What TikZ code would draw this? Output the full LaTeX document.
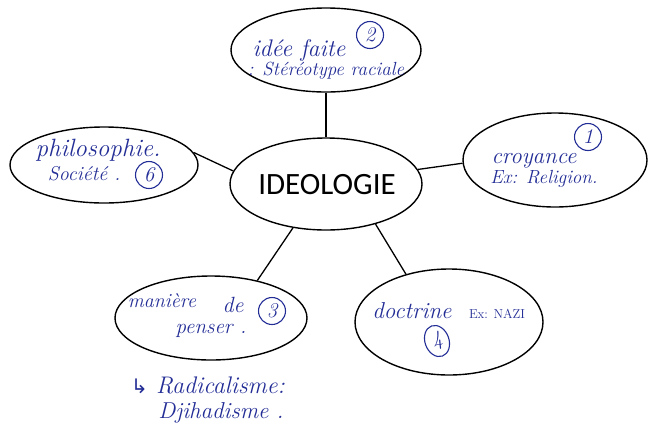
\documentclass[tikz,border=0pt]{standalone}
\usepackage{fontspec}
\newfontfamily\calib{Carlito}
\newfontfamily\djv{DejaVu Sans}
\usetikzlibrary{shapes.geometric}
\definecolor{hand}{RGB}{35,45,150}
\tikzset{
  bubble/.style={ellipse, draw=black, line width=1.4pt, inner sep=0pt},
  link/.style={draw=black, line width=1.3pt},
  hw/.style={text=hand, font=\fontsize{#1}{#1}\selectfont\itshape, inner sep=0pt},
  hw/.default=21,
  hwcaps/.style={text=hand, font=\fontsize{13}{15}\selectfont, inner sep=0pt},
  num/.style={circle, draw=hand, line width=1.1pt, text=hand, inner sep=0pt, minimum size=27pt, font=\fontsize{21}{23}\selectfont\itshape}
}
\begin{document}
\begin{tikzpicture}[x=1pt,y=-1pt]
\useasboundingbox (0,0) rectangle (650,426);
\fill[white] (0,0) rectangle (650,426);
% ellipses
\node[bubble, minimum width=192pt, minimum height=92pt] (center) at (326,184) {};
\node[bubble, minimum width=190pt, minimum height=84pt] (top) at (326,50) {};
\node[bubble, minimum width=188pt, minimum height=76pt] (left) at (104,165) {};
\node[bubble, minimum width=184pt, minimum height=94pt] (right) at (555,160) {};
\node[bubble, minimum width=192pt, minimum height=84pt] (bl) at (211,318) {};
\node[bubble, minimum width=188pt, minimum height=106pt] (br) at (449,322) {};
% connectors
\draw[link] (top.south) -- (center.north);
\draw[link] (left.8) -- (center.172);
\draw[link] (center.9) -- (right.182);
\draw[link] (center.233) -- (bl.39);
\draw[link] (center.-39) -- (br.132);
% central label
\node[font=\calib\fontsize{31}{34}\selectfont, inner sep=0pt] (ideo) at (327,185) {IDEOLOGIE};
% top texts
\node[hw=24] (t1) at (299,50) {idée faite};
\node[hw=19] (t2) at (326,71) {: Stéréotype raciale};
\node[num] (n2) at (370,35) {2};
% left texts
\node[hw=25] (l1) at (98,150) {philosophie.};
\node[hw=20] (l2) at (84,174) {Société .};
\node[num] (n6) at (149,175) {6};
% right texts
\node[hw=23] (r1) at (534,161) {croyance};
\node[hw=19] (r2) at (544,179) {Ex: Religion.};
\node[num] (n1) at (588,137) {1};
% bottom left texts
\node[hw=20] (b1) at (162,301) {manière};
\node[hw=22] (b2) at (233,305) {de};
\node[hw=21] (b3) at (211,331) {penser .};
\node[num] (n3) at (272,311) {3};
\node[hw=24] (b4) at (208,385) {{\upshape\djv\fontsize{20}{20}\selectfont ↳} Radicalisme:};
\node[hw=23] (b5) at (221,413) {Djihadisme .};
% bottom right texts
\node[hw=23] (d1) at (412,311) {doctrine};
\node[hwcaps] (d2) at (497,314) {Ex: NAZI};
\node[num, ellipse, minimum width=24pt, minimum height=32pt, rotate=20] (n4) at (437,341) {4};
\end{tikzpicture}
\end{document}
